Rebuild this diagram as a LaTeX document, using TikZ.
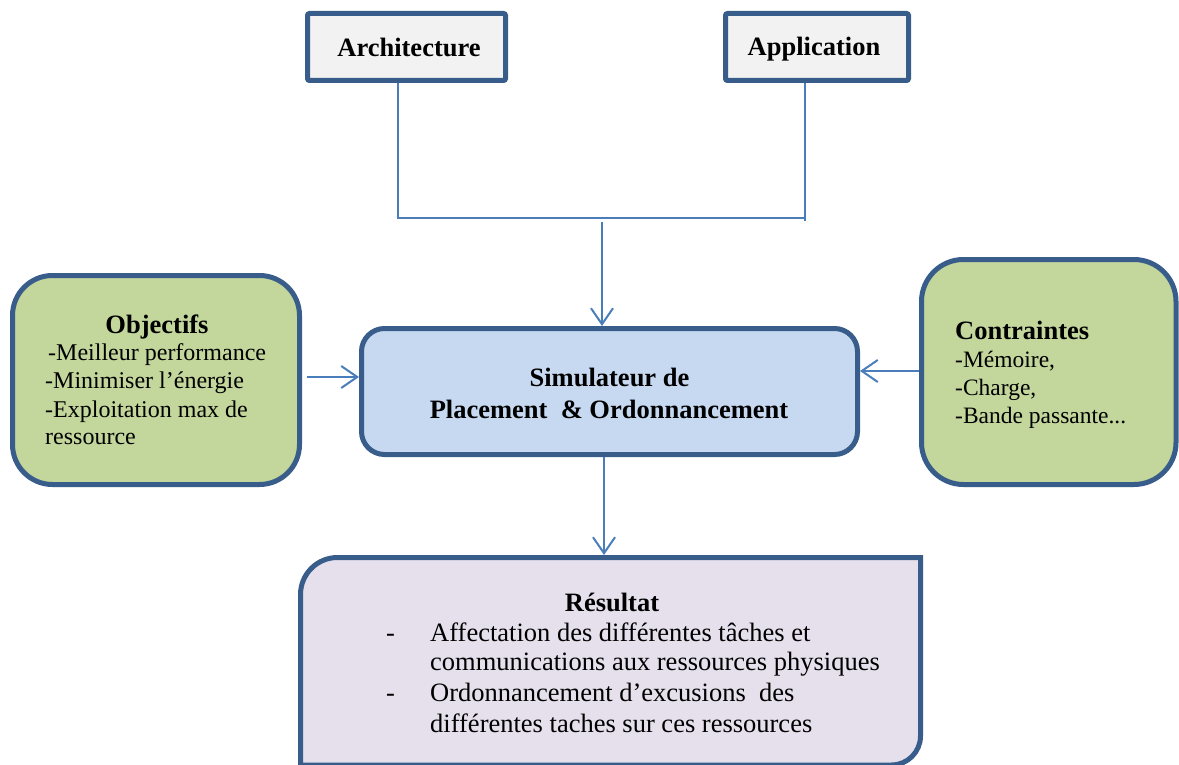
\documentclass[tikz,border=0pt]{standalone}
\usepackage{fontspec}
\setmainfont{Liberation Serif}
\usetikzlibrary{arrows.meta}
\definecolor{bordc}{RGB}{56,93,138}
\definecolor{linec}{RGB}{74,126,187}
\definecolor{grayf}{RGB}{242,242,242}
\definecolor{greenf}{RGB}{195,214,155}
\definecolor{bluef}{RGB}{198,217,241}
\definecolor{lavf}{RGB}{229,224,236}
\tikzset{
  topbox/.style={draw=bordc, line width=5pt, fill=grayf, rounded corners=2pt, inner sep=0pt},
  greenbox/.style={draw=bordc, line width=5pt, fill=greenf, rounded corners=40pt, inner sep=0pt},
  simbox/.style={draw=bordc, line width=5pt, fill=bluef, rounded corners=23pt, inner sep=0pt},
  resbox/.style={draw=bordc, line width=5pt, fill=lavf},
  conn/.style={draw=linec, line width=2pt},
  arr/.style={conn, -{Straight Barb[length=16pt,width=22pt,line width=2pt]}},
  hd/.style={font=\fontsize{26.5}{30}\selectfont\bfseries, inner sep=0pt, anchor=base},
  bodyo/.style={font=\fontsize{24}{28}\selectfont, inner sep=0pt, anchor=base west},
  bodyc/.style={font=\fontsize{23.5}{28}\selectfont, inner sep=0pt, anchor=base west},
  bodyr/.style={font=\fontsize{26.5}{30}\selectfont, inner sep=0pt, anchor=base west},
}
\begin{document}
\begin{tikzpicture}[x=1pt,y=-1pt]
\useasboundingbox (0,0) rectangle (1179,765);
\clip (0,0) rectangle (1179,765);
% boxes
\node[topbox, minimum width=198pt, minimum height=67pt] (arch) at (406.5,47) {};
\node[topbox, minimum width=183pt, minimum height=67pt] (app) at (817,47) {};
\node[simbox, minimum width=496pt, minimum height=126pt] (sim) at (609.5,391.5) {};
\node[greenbox, minimum width=287pt, minimum height=209pt] (obj) at (156,380) {};
\node[greenbox, rounded corners=42pt, minimum width=254.5pt, minimum height=225pt] (con) at (1048.75,372) {};
\node[draw=none, outer sep=2.5pt, minimum width=620pt, minimum height=207pt] (res) at (610.5,661) {};
\draw[resbox] (300.5,765) -- (300.5,594.5) arc[start angle=180,end angle=270,radius=37]
  -- (920.5,557.5) -- (920.5,736) arc[start angle=0,end angle=90,radius=29] -- cycle;
% texts
\node[hd] (tarch) at (409,57) {Architecture};
\node[hd] (tapp) at (814,56) {Application};
\node[hd] (tobj) at (157,333) {Objectifs};
\node[bodyo] (o1) at (48,360) {-Meilleur performance};
\node[bodyo] (o2) at (45,388) {-Minimiser l’énergie};
\node[bodyo] (o3) at (45,417) {-Exploitation max de};
\node[bodyo] (o4) at (45,444) {ressource};
\node[hd, anchor=base west] (tcon) at (955,339) {Contraintes};
\node[bodyc] (c1) at (955,367) {-Mémoire,};
\node[bodyc] (c2) at (955,395) {-Charge,};
\node[bodyc] (c3) at (955,423) {-Bande passante...};
\node[hd] (ts1) at (609.5,386) {Simulateur de};
\node[hd] (ts2) at (609,418) {Placement\ \ \& Ordonnancement};
\node[hd] (tres) at (612,611) {Résultat};
\node[bodyr] (d1) at (386,641) {-};
\node[bodyr] (r1) at (430,641) {Affectation des différentes tâches et};
\node[bodyr] (r2) at (430,670) {communications aux ressources physiques};
\node[bodyr] (d2) at (386,701) {-};
\node[bodyr] (r3) at (430,701) {Ordonnancement d’excusions\ \ des};
\node[bodyr] (r4) at (430,732) {différentes taches sur ces ressources};
% connectors
\coordinate (ja) at (398,218);
\coordinate (jb) at (805,218);
\coordinate (jm) at (602,222);
\coordinate (oa) at (307,377);
\coordinate (ca) at (919,371);
\coordinate (sd) at (604,455);
\draw[conn] (arch.south -| ja) -- (ja) -- (jb);
\draw[conn] (app.south -| jb) -- (805,221);
\draw[arr] (jm) -- (sim.north -| jm);
\draw[arr] (oa) -- (oa -| sim.west);
\draw[arr] (ca) -- (ca -| sim.east);
\draw[arr] (sim.south -| sd) -- (res.north -| sd);
\end{tikzpicture}
\end{document}
